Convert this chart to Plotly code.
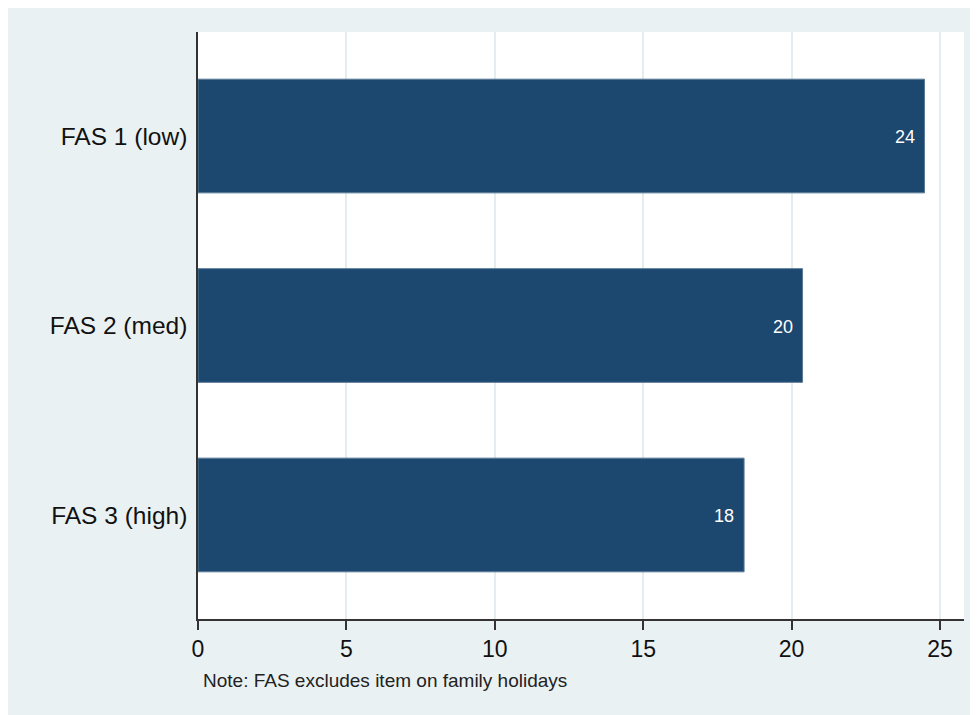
import plotly.graph_objects as go

categories = ["FAS 1 (low)", "FAS 2 (med)", "FAS 3 (high)"]
values = [24.48, 20.37, 18.40]
value_labels = ["24", "20", "18"]
x_ticks = [0, 5, 10, 15, 20, 25]
note = "Note: FAS excludes item on family holidays"

BAR = "#1C476F"
BG = "#EAF1F3"
FONT = "Arial, Liberation Sans, sans-serif"

fig = go.Figure()
fig.add_trace(go.Bar(
    y=categories, x=values, orientation="h",
    marker=dict(color=BAR, line=dict(color="#5A7A96", width=1)),
    width=0.6, hoverinfo="skip",
))

for c, v, t in zip(categories, values, value_labels):
    fig.add_annotation(x=v, y=c, xref="x", yref="y", text=t, showarrow=False,
                       xanchor="right", xshift=-8, yshift=-1,
                       font=dict(family=FONT, size=18, color="white"))

fig.add_annotation(x=0, y=0, xref="paper", yref="paper", text=note, showarrow=False,
                   xanchor="left", yanchor="middle", xshift=3, yshift=-61,
                   font=dict(family=FONT, size=19, color="#222222"))

fig.update_layout(
    width=970, height=707,
    margin=dict(l=190, r=14, t=24, b=96),
    paper_bgcolor=BG, plot_bgcolor="white",
    showlegend=False,
    font=dict(family=FONT, color="#111111"),
    xaxis=dict(range=[0, 25.81], tickvals=x_ticks, ticks="outside", ticklen=9,
               tickwidth=1.5, tickcolor="#333333",
               showline=True, linecolor="#333333", linewidth=1.5,
               showgrid=True, gridcolor="#E3ECEF", gridwidth=2,
               zeroline=False, tickfont=dict(size=23, color="#111111"),
               fixedrange=True),
    yaxis=dict(type="category", categoryorder="array", categoryarray=categories,
               range=[2.549, -0.549], ticks="", showline=True, linecolor="#333333",
               linewidth=1.5, showgrid=False, ticklabelstandoff=4,
               tickfont=dict(size=24.5, color="#111111"), fixedrange=True),
)

fig.write_html("out.html")
